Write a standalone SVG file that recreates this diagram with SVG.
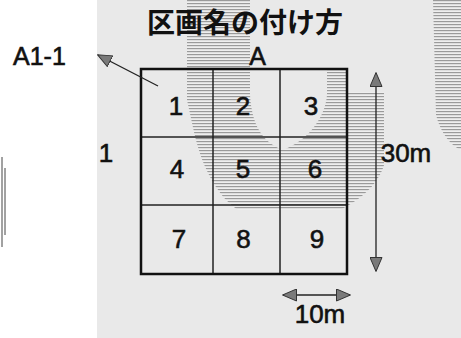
<svg xmlns="http://www.w3.org/2000/svg" width="461" height="338" viewBox="0 0 461 338">
  <style>
    .num { font-family: "Liberation Sans", Arial, sans-serif; font-size: 26px; fill: #111; stroke: #111; stroke-width: 0.6; text-anchor: middle; }
    .lbl { font-family: "Liberation Sans", Arial, sans-serif; font-size: 25px; fill: #111; stroke: #111; stroke-width: 0.6; }
    .title { font-family: "Noto Sans CJK JP", "Noto Sans", sans-serif; font-size: 28px; font-weight: 700; fill: #111; }
    .cell { fill: none; stroke: #222; stroke-width: 1; }
    .frame { fill: none; stroke: #111; stroke-width: 2.5; }
    .conn { stroke: #222; stroke-width: 1.3; fill: none; }
  </style>
  <defs>
    <pattern id="stripes" width="6" height="3" patternUnits="userSpaceOnUse">
      <rect width="6" height="3" fill="#eeeeee"/>
      <rect width="6" height="1.2" fill="#9a9a9a"/>
    </pattern>
    <marker id="head" viewBox="0 0 15 13" refX="14" refY="6.5" markerWidth="15" markerHeight="13" markerUnits="userSpaceOnUse" orient="auto-start-reverse">
      <path d="M0.5,0.5 L14.5,6.5 L0.5,12.5 Z" fill="#7a7a7a" stroke="#333" stroke-width="1"/>
    </marker>
  </defs>

  <!-- scanned background -->
  <rect x="0" y="0" width="461" height="338" fill="#ffffff"/>
  <rect x="97" y="0" width="364" height="338" fill="#e9e9e9"/>
  <path d="M187,0 H250 V95 C252,125 262,142 283,150 C305,142 325,120 327,95 V70 H347 V92 H384 V165 C378,185 360,200 340,210 H238 C220,198 203,172 194,132 L187,100 Z" fill="url(#stripes)"/>
  <path d="M433,0 H461 V150 C452,146 441,135 436,115 Z" fill="url(#stripes)"/>
  <line x1="2" y1="157" x2="2" y2="247" stroke="#444" stroke-width="1"/>
  <line x1="5" y1="168" x2="5" y2="235" stroke="#444" stroke-width="1"/>

  <g id="title">
    <text class="title" x="245" y="33" text-anchor="middle">区画名の付け方</text>
  </g>
  <g id="label-A">
    <text class="lbl" x="257.5" y="65" text-anchor="middle">A</text>
  </g>
  <g id="label-A1-1">
    <text class="lbl" x="13" y="65">A1-1</text>
  </g>
  <g id="label-1">
    <text class="num" x="106" y="162">1</text>
  </g>
  <g id="label-30m">
    <text class="num" x="406" y="162" text-anchor="start">30m</text>
  </g>
  <g id="label-10m">
    <text class="num" x="320" y="323">10m</text>
  </g>

  <g id="cell-1"><rect class="cell" x="141" y="69" width="72" height="68"/><text class="num" x="176" y="115">1</text></g>
  <g id="cell-2"><rect class="cell" x="213" y="69" width="67" height="68"/><text class="num" x="243" y="115">2</text></g>
  <g id="cell-3"><rect class="cell" x="280" y="69" width="67" height="68"/><text class="num" x="311" y="115">3</text></g>
  <g id="cell-4"><rect class="cell" x="141" y="137" width="72" height="68"/><text class="num" x="177" y="178">4</text></g>
  <g id="cell-5"><rect class="cell" x="213" y="137" width="67" height="68"/><text class="num" x="243" y="178">5</text></g>
  <g id="cell-6"><rect class="cell" x="280" y="137" width="67" height="68"/><text class="num" x="315" y="178">6</text></g>
  <g id="cell-7"><rect class="cell" x="141" y="205" width="72" height="69"/><text class="num" x="179" y="248">7</text></g>
  <g id="cell-8"><rect class="cell" x="213" y="205" width="67" height="69"/><text class="num" x="243.5" y="248">8</text></g>
  <g id="cell-9"><rect class="cell" x="280" y="205" width="67" height="69"/><text class="num" x="317" y="248">9</text></g>
  <g id="grid-frame"><rect class="frame" x="141" y="69" width="206" height="205"/></g>

  <g id="connectors">
    <line class="conn" x1="158" y1="86" x2="98" y2="55" marker-end="url(#head)"/>
    <line class="conn" x1="376" y1="73" x2="376" y2="271" marker-start="url(#head)" marker-end="url(#head)"/>
    <line class="conn" x1="283" y1="295" x2="350" y2="295" marker-start="url(#head)" marker-end="url(#head)"/>
  </g>
</svg>
